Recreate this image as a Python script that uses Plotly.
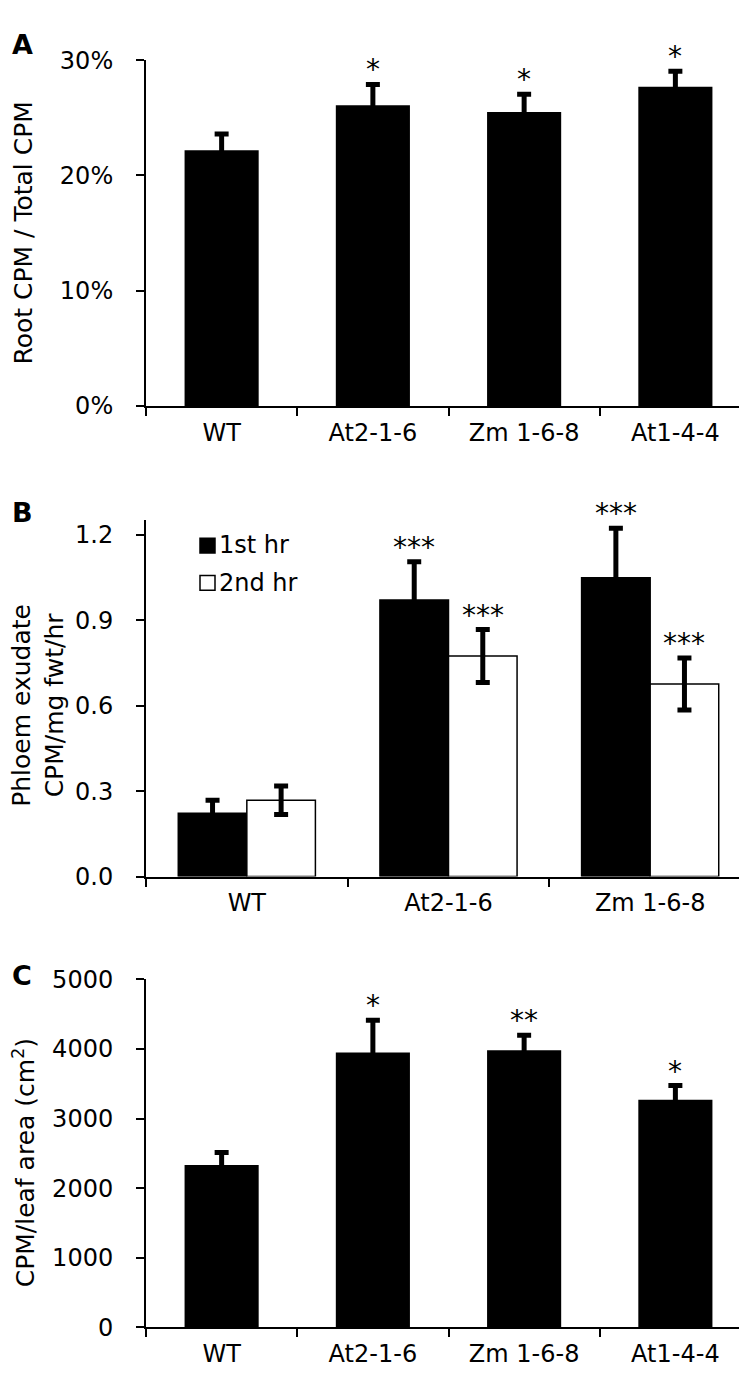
import plotly.graph_objects as go

# ---------------- data ----------------
cats4 = ["WT", "At2-1-6", "Zm 1-6-8", "At1-4-4"]
cats3 = ["WT", "At2-1-6", "Zm 1-6-8"]

a_vals = [22.2, 26.1, 25.5, 27.7]          # Root CPM / Total CPM (%)
a_err = [1.4, 1.8, 1.55, 1.35]
a_sig = ["", "*", "*", "*"]

b_first = [0.222, 0.971, 1.049]           # 1st hr
b_first_err = [0.046, 0.134, 0.174]
b_first_sig = ["", "***", "***"]
b_second = [0.268, 0.774, 0.676]          # 2nd hr
b_second_err = [0.05, 0.093, 0.091]
b_second_sig = ["", "***", "***"]

c_vals = [2333, 3948, 3981, 3272]         # CPM / leaf area
c_err = [180, 465, 216, 202]
c_sig = ["", "*", "**", "*"]

a_ticks = [0, 10, 20, 30]
a_ticktext = ["0%", "10%", "20%", "30%"]
b_ticks = [0.0, 0.3, 0.6, 0.9, 1.2]
c_ticks = [0, 1000, 2000, 3000, 4000, 5000]

# ---------------- layout helpers ----------------
W, H = 747, 1378
FONT = "DejaVu Sans"
TICK_SIZE = 24


def px(x):
    return x / W


def py(y):
    return 1 - y / H


fig = go.Figure()

err_style = dict(type="data", symmetric=True, color="black", thickness=5, width=7)

# Panel A
fig.add_trace(go.Bar(x=cats4, y=a_vals, width=0.49, marker=dict(color="black", line=dict(width=0)),
                     error_y=dict(array=a_err, **err_style), xaxis="x", yaxis="y", showlegend=False))
# Panel B
fig.add_trace(go.Bar(x=cats3, y=b_first, width=0.34, offset=-0.34, name="1st hr",
                     marker=dict(color="black", line=dict(color="black", width=1.5)),
                     error_y=dict(array=b_first_err, **err_style), xaxis="x2", yaxis="y2", showlegend=False))
fig.add_trace(go.Bar(x=cats3, y=b_second, width=0.34, offset=0.0, name="2nd hr",
                     marker=dict(color="white", line=dict(color="black", width=1.5)),
                     error_y=dict(array=b_second_err, **err_style), xaxis="x2", yaxis="y2", showlegend=False))
# Panel C
fig.add_trace(go.Bar(x=cats4, y=c_vals, width=0.49, marker=dict(color="black", line=dict(width=0)),
                     error_y=dict(array=c_err, **err_style), xaxis="x3", yaxis="y3", showlegend=False))

# significance stars
annotations = []


def add_stars(xref, yref, cats, vals, errs, sig, xoff=0.0):
    for i, (c, v, e, s) in enumerate(zip(cats, vals, errs, sig)):
        if s:
            annotations.append(dict(x=i + xoff, y=v + e, xref=xref, yref=yref, text=s,
                                    showarrow=False, yanchor="bottom", yshift=-4,
                                    font=dict(family=FONT, size=28, color="black")))


add_stars("x", "y", cats4, a_vals, a_err, a_sig)
add_stars("x2", "y2", cats3, b_first, b_first_err, b_first_sig, xoff=-0.17)
add_stars("x2", "y2", cats3, b_second, b_second_err, b_second_sig, xoff=0.17)
add_stars("x3", "y3", cats4, c_vals, c_err, c_sig)

# panel letters
for letter, ytop in [("A", 5), ("B", 483), ("C", 955)]:
    annotations.append(dict(x=px(2), y=py(ytop), xref="paper", yref="paper", text="<b>%s</b>" % letter,
                            showarrow=False, xanchor="left", yanchor="top",
                            font=dict(family=FONT, size=27, color="black")))

# y-axis titles
title_font = dict(family=FONT, size=25, color="black")
annotations.append(dict(x=px(16), y=py(216), xref="paper", yref="paper", text="Root CPM / Total CPM",
                        textangle=-90, showarrow=False, xanchor="center", yanchor="middle", font=title_font))
annotations.append(dict(x=px(30), y=py(698), xref="paper", yref="paper",
                        text="Phloem exudate<br>CPM/mg fwt/hr",
                        textangle=-90, showarrow=False, xanchor="center", yanchor="middle", font=title_font))
annotations.append(dict(x=px(16), y=py(1165), xref="paper", yref="paper",
                        text="CPM/leaf area (cm<sup>2</sup>)",
                        textangle=-90, showarrow=False, xanchor="center", yanchor="middle", font=title_font))

# manual legend for panel B
shapes = [
    dict(type="rect", xref="paper", yref="paper", x0=px(192), x1=px(207), y0=py(542), y1=py(527),
         fillcolor="black", line=dict(color="black", width=1.5)),
    dict(type="rect", xref="paper", yref="paper", x0=px(192), x1=px(207), y0=py(580), y1=py(565),
         fillcolor="white", line=dict(color="black", width=1.5)),
]
annotations.append(dict(x=px(209), y=py(534), xref="paper", yref="paper", text="1st hr", showarrow=False,
                        xanchor="left", yanchor="middle", font=dict(family=FONT, size=TICK_SIZE, color="black")))
annotations.append(dict(x=px(209), y=py(573), xref="paper", yref="paper", text="2nd hr", showarrow=False,
                        xanchor="left", yanchor="middle", font=dict(family=FONT, size=TICK_SIZE, color="black")))

tick_font = dict(family=FONT, size=TICK_SIZE, color="black")
xdom = [px(138), px(743)]
common_x = dict(type="category", domain=xdom, showline=True, linecolor="black", linewidth=2,
                ticks="outside", ticklen=8, tickwidth=2, tickcolor="black", tickson="boundaries",
                showgrid=False, zeroline=False, tickfont=tick_font, ticklabelstandoff=4, fixedrange=True)
common_y = dict(showline=True, linecolor="black", linewidth=2, ticks="outside", ticklen=8, tickwidth=2,
                tickcolor="black", showgrid=False, zeroline=False, tickfont=tick_font,
                ticklabelstandoff=18, fixedrange=True)

fig.update_layout(
    width=W, height=H, margin=dict(l=0, r=0, t=0, b=0),
    paper_bgcolor="white", plot_bgcolor="white",
    barmode="overlay",
    font=dict(family=FONT, color="black"),
    xaxis=dict(anchor="y", **common_x),
    yaxis=dict(anchor="x", domain=[py(392), py(39)], range=[0, 30], tickvals=a_ticks,
               ticktext=a_ticktext, **common_y),
    xaxis2=dict(anchor="y2", **common_x),
    yaxis2=dict(anchor="x2", domain=[py(872.3), py(508.8)], range=[0, 1.25], tickvals=b_ticks,
                tickformat=".1f", **common_y),
    xaxis3=dict(anchor="y3", **common_x),
    yaxis3=dict(anchor="x3", domain=[py(1332.3), py(977.3)], range=[0, 5000], tickvals=c_ticks,
                **common_y),
    annotations=annotations,
    shapes=shapes,
)

fig.write_html("out.html")
